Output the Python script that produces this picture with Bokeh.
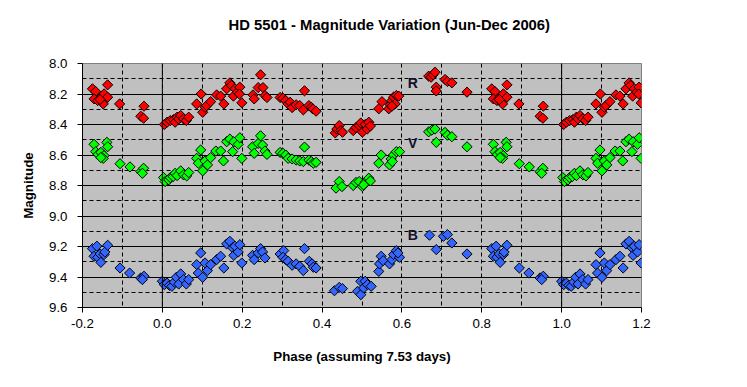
import numpy as np
from bokeh.plotting import figure
from bokeh.models import Range1d, FixedTicker, Span, ColumnDataSource, CustomJSTickFormatter, Title
from bokeh.core.properties import value
from bokeh.embed import file_html
from bokeh.resources import INLINE

# ---- data (phase in 0..1, magnitudes) ----
r_phase = [0.005, 0.012, 0.020, 0.028, 0.032, 0.037, 0.041, 0.046, 0.053, 0.060, 0.066,
           0.086, 0.097, 0.101, 0.107, 0.111, 0.121, 0.136, 0.146, 0.154, 0.161, 0.169, 0.173,
           0.178, 0.182, 0.188, 0.194, 0.193, 0.199, 0.227, 0.230, 0.240, 0.246, 0.252, 0.257,
           0.262, 0.295, 0.302, 0.309, 0.315, 0.320, 0.325, 0.335, 0.344, 0.353, 0.356, 0.367,
           0.373, 0.377, 0.385, 0.433, 0.437, 0.443, 0.447, 0.451, 0.478, 0.485, 0.493, 0.497,
           0.501, 0.508, 0.513, 0.517, 0.521, 0.542, 0.550, 0.567, 0.571, 0.575, 0.579, 0.586,
           0.592, 0.583, 0.575, 0.667, 0.673, 0.678, 0.683, 0.686, 0.686, 0.708, 0.714, 0.725,
           0.763, 0.825, 0.833, 0.829, 0.838, 0.846, 0.850, 0.854, 0.863, 0.863, 0.852, 0.844,
           0.893, 0.954, 0.946, 0.953]
r_mag = [8.400, 8.385, 8.374, 8.368, 8.385, 8.352, 8.363, 8.341, 8.363, 8.374, 8.352,
         8.265, 8.200, 8.320, 8.287, 8.276, 8.250, 8.206, 8.214, 8.265, 8.166, 8.127, 8.144,
         8.214, 8.166, 8.188, 8.155, 8.200, 8.258, 8.206, 8.232, 8.158, 8.074, 8.158, 8.210,
         8.223, 8.223, 8.228, 8.243, 8.265, 8.254, 8.289, 8.271, 8.276, 8.304, 8.179, 8.276,
         8.287, 8.298, 8.313, 8.455, 8.430, 8.407, 8.440, 8.451, 8.440, 8.420, 8.407, 8.390,
         8.450, 8.400, 8.430, 8.385, 8.410, 8.297, 8.250, 8.297, 8.271, 8.243, 8.221, 8.210,
         8.214, 8.265, 8.280, 8.083, 8.090, 8.074, 8.057, 8.155, 8.180, 8.105, 8.118, 8.127,
         8.188, 8.166, 8.184, 8.232, 8.243, 8.221, 8.254, 8.199, 8.140, 8.221, 8.265, 8.236,
         8.265, 8.280, 8.346, 8.359]

v_phase = [0.003, 0.007, 0.016, 0.020, 0.027, 0.032, 0.037, 0.046, 0.053, 0.061, 0.066,
           0.086, 0.096, 0.090, 0.101, 0.107, 0.113, 0.121, 0.134, 0.146, 0.153, 0.161, 0.169,
           0.176, 0.179, 0.190, 0.194, 0.199, 0.226, 0.230, 0.240, 0.246, 0.251, 0.257, 0.262,
           0.295, 0.302, 0.309, 0.315, 0.325, 0.335, 0.344, 0.353, 0.356, 0.367, 0.373, 0.378,
           0.385, 0.435, 0.443, 0.450, 0.478, 0.485, 0.493, 0.501, 0.508, 0.517, 0.521, 0.504,
           0.542, 0.548, 0.569, 0.573, 0.579, 0.586, 0.594, 0.576, 0.667, 0.675, 0.683, 0.686,
           0.708, 0.714, 0.725, 0.763, 0.829, 0.833, 0.839, 0.846, 0.854, 0.861, 0.863, 0.852,
           0.846, 0.894, 0.919, 0.946, 0.953, 0.950]
v_mag = [8.748, 8.774, 8.763, 8.748, 8.741, 8.720, 8.735, 8.704, 8.730, 8.737, 8.715,
         8.622, 8.567, 8.654, 8.704, 8.639, 8.665, 8.617, 8.574, 8.574, 8.639, 8.513, 8.496,
         8.578, 8.513, 8.530, 8.487, 8.622, 8.546, 8.589, 8.524, 8.474, 8.535, 8.574, 8.596,
         8.583, 8.589, 8.600, 8.622, 8.626, 8.633, 8.639, 8.643, 8.548, 8.633, 8.643, 8.654,
         8.648, 8.817, 8.774, 8.807, 8.800, 8.780, 8.774, 8.807, 8.778, 8.752, 8.770, 8.796,
         8.654, 8.600, 8.665, 8.626, 8.600, 8.578, 8.578, 8.643, 8.448, 8.437, 8.430, 8.517,
         8.452, 8.470, 8.480, 8.546, 8.530, 8.578, 8.596, 8.583, 8.604, 8.517, 8.546, 8.622,
         8.617, 8.657, 8.678, 8.709, 8.687, 8.720]

b_phase = [0.000, 0.005, 0.012, 0.018, 0.024, 0.030, 0.035, 0.041, 0.046, 0.053, 0.060,
           0.066, 0.086, 0.096, 0.090, 0.101, 0.107, 0.113, 0.121, 0.136, 0.146, 0.154, 0.161,
           0.169, 0.176, 0.179, 0.182, 0.190, 0.194, 0.199, 0.226, 0.230, 0.240, 0.246, 0.251,
           0.257, 0.295, 0.304, 0.302, 0.309, 0.315, 0.325, 0.335, 0.344, 0.353, 0.356, 0.368,
           0.375, 0.378, 0.385, 0.431, 0.443, 0.451, 0.489, 0.497, 0.497, 0.504, 0.508, 0.514,
           0.523, 0.542, 0.544, 0.548, 0.553, 0.569, 0.575, 0.579, 0.586, 0.594, 0.590, 0.669,
           0.686, 0.704, 0.714, 0.725, 0.763, 0.825, 0.836, 0.829, 0.838, 0.844, 0.854, 0.856,
           0.863, 0.846, 0.894, 0.918, 0.946, 0.954, 0.950]
b_mag = [9.428, 9.450, 9.440, 9.455, 9.461, 9.433, 9.402, 9.446, 9.380, 9.417, 9.446,
         9.417, 9.319, 9.242, 9.374, 9.402, 9.308, 9.358, 9.319, 9.286, 9.264, 9.341, 9.183,
         9.166, 9.209, 9.258, 9.198, 9.236, 9.188, 9.308, 9.258, 9.286, 9.242, 9.214, 9.236,
         9.275, 9.249, 9.227, 9.271, 9.286, 9.297, 9.323, 9.314, 9.330, 9.358, 9.214, 9.297,
         9.314, 9.336, 9.341, 9.490, 9.468, 9.476, 9.494, 9.516, 9.428, 9.472, 9.428, 9.450,
         9.461, 9.363, 9.314, 9.264, 9.293, 9.314, 9.286, 9.253, 9.227, 9.271, 9.242, 9.126,
         9.220, 9.133, 9.122, 9.177, 9.249, 9.214, 9.198, 9.264, 9.271, 9.249, 9.253, 9.236,
         9.192, 9.304, 9.341, 9.374, 9.406, 9.395, 9.417]

series_names = ["R", "V", "B"]
series_colors = ["#FF0000", "#00FF00", "#3366FF"]
label_phase = [0.627, 0.627, 0.627]
label_mag = [8.13, 8.524, 9.122]

x_ticks = [-0.2, 0.0, 0.2, 0.4, 0.6, 0.8, 1.0, 1.2]
x_minor = [-0.1, 0.1, 0.3, 0.5, 0.7, 0.9, 1.1]
y_ticks = [8.0, 8.2, 8.4, 8.6, 8.8, 9.0, 9.2, 9.4, 9.6]
y_minor = [8.1, 8.3, 8.5, 8.7, 8.9, 9.1, 9.3, 9.5]

TITLE = "HD 5501 - Magnitude Variation (Jun-Dec 2006)"


def extend(ph, mg):
    """Phase-fold copy: repeat points of phase>=0.8 at phase-1 and phase<=0.2 at phase+1."""
    ph = np.asarray(ph); mg = np.asarray(mg)
    lo = ph >= 0.8
    hi = ph <= 0.2
    return (np.concatenate([ph, ph[lo] - 1.0, ph[hi] + 1.0]),
            np.concatenate([mg, mg[lo], mg[hi]]))


FONT = "Liberation Sans"

p = figure(width=740, height=380, output_backend="svg", toolbar_location=None,
           x_range=Range1d(-0.2, 1.2), y_range=Range1d(9.6, 8.0),
           min_border_left=82, min_border_right=99, min_border_top=63, min_border_bottom=73)

# inner blank spacer title, then the real title further out
p.add_layout(Title(text=" ", text_font=FONT, text_font_size="10px", standoff=16), "above")
p.add_layout(Title(text=TITLE, align="left", offset=146, vertical_align="bottom", standoff=4,
                   text_font=FONT, text_font_size="14.8px", text_font_style="bold",
                   text_color="#000000"), "above")

p.background_fill_color = "#C0C0C0"
p.border_fill_color = "#FFFFFF"
p.outline_line_color = "#808080"
p.outline_line_width = 1

p.xaxis.ticker = FixedTicker(ticks=x_ticks, minor_ticks=x_minor)
p.yaxis.ticker = FixedTicker(ticks=y_ticks, minor_ticks=y_minor)
p.xaxis.formatter = CustomJSTickFormatter(code="return tick.toFixed(1);")
p.yaxis.formatter = CustomJSTickFormatter(code="return tick.toFixed(1);")

for ax in (p.xaxis, p.yaxis):
    ax.axis_line_color = "#000000"
    ax.major_tick_line_color = "#000000"
    ax.minor_tick_line_color = None
    ax.major_tick_in = 0
    ax.major_tick_out = 5
    ax.major_label_text_font = FONT
    ax.major_label_text_font_size = "13.3px"
    ax.major_label_text_color = "#000000"
    ax.axis_label_text_font = FONT
    ax.axis_label_text_font_size = "13.3px"
    ax.axis_label_text_font_style = "bold"
    ax.axis_label_text_color = "#000000"

p.xaxis.axis_label = "Phase (assuming 7.53 days)"
p.yaxis.axis_label = "Magnitude"
p.xaxis.major_label_standoff = 6
p.xaxis.axis_label_standoff = 18
p.yaxis.major_label_standoff = 10
p.yaxis.axis_label_standoff = 10

# grids
p.xgrid.grid_line_color = "#000000"
p.xgrid.grid_line_dash = "4 3"
p.xgrid.minor_grid_line_color = "#000000"
p.xgrid.minor_grid_line_dash = "4 3"
p.ygrid.grid_line_color = "#000000"
p.ygrid.grid_line_dash = "solid"
p.ygrid.minor_grid_line_color = "#000000"
p.ygrid.minor_grid_line_dash = "4 3"

for xv in (0.0, 1.0):
    p.add_layout(Span(location=xv, dimension="height", line_color="#000000", line_width=1))

for name, ph, mg, col in zip(series_names, [r_phase, v_phase, b_phase],
                             [r_mag, v_mag, b_mag], series_colors):
    xs, ys = extend(ph, mg)
    src = ColumnDataSource(dict(x=xs, y=ys))
    p.scatter("x", "y", source=src, marker="square", angle=np.pi / 4, size=7.2,
              fill_color=col, line_color="#000000", line_width=1)

p.text(x=label_phase, y=label_mag, text=series_names, text_font=value(FONT),
       text_font_size="14px", text_font_style="bold", text_color="#101028",
       text_align="center", text_baseline="middle")

open("out.html", "w").write(file_html(p, INLINE))
